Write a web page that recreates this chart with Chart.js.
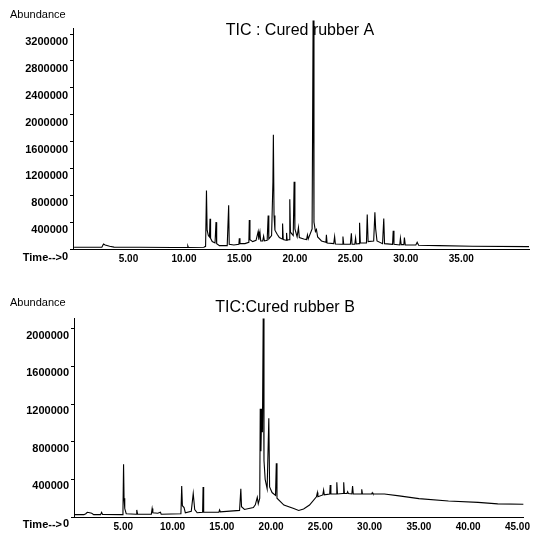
<!DOCTYPE html>
<html>
<head>
<meta charset="utf-8">
<script src="https://cdn.jsdelivr.net/npm/chart.js@4.4.1/dist/chart.umd.min.js"></script>
<style>
  html, body { margin: 0; padding: 0; background: #fff; }
  canvas { display: block; }
</style>
</head>
<body>
<canvas id="chartA" width="534" height="270"></canvas>
<canvas id="chartB" width="534" height="267"></canvas>
<script>
// retention time (min) and abundance
const timeA = [0.1, 2.6, 2.75, 2.9, 3.3, 3.7, 6.0, 9.0, 10.3, 10.35, 10.4, 11.8,
  11.95, 12.03, 12.09, 12.2, 12.3, 12.35, 12.4, 12.55, 12.8, 12.89, 12.95, 13.2,
  13.9, 14.03, 14.08, 14.5, 14.95, 14.99, 15.05, 15.5, 15.85, 15.89, 15.95, 16.2,
  16.5, 16.69, 16.75, 16.85, 16.92, 17.1, 17.18, 17.25, 17.5, 17.59, 17.65, 17.9,
  18.02, 18.06, 18.12, 18.2, 18.4, 18.6, 18.85, 18.89, 18.95, 19.2, 19.25, 19.3,
  19.5, 19.54, 19.6, 19.85, 19.93, 20.0, 20.2, 20.32, 20.4, 20.8, 21.05, 21.13,
  21.2, 21.55, 21.64, 21.72, 21.85, 21.94, 22.05, 22.4, 22.8, 22.84, 22.9, 23.5,
  23.58, 23.65, 24.25, 24.33, 24.4, 25.0, 25.09, 25.15, 25.4, 25.47, 25.53, 25.78,
  25.83, 25.9, 26.45, 26.52, 26.6, 27.1, 27.21, 27.28, 27.4, 27.9, 28.01, 28.08,
  28.8, 28.86, 28.93, 29.45, 29.51, 29.58, 29.82, 29.87, 29.95, 30.9, 31.02, 31.15,
  33.0, 36.0, 41.1];
const abundA = [25000, 25000, 75000, 60000, 40000, 28000, 25000, 22000, 22000, 45000, 22000, 25000,
  40000, 870000, 280000, 200000, 180000, 450000, 160000, 110000, 90000, 400000, 80000, 50000,
  50000, 650000, 70000, 60000, 70000, 160000, 80000, 80000, 100000, 430000, 140000, 110000,
  130000, 260000, 140000, 250000, 120000, 120000, 190000, 120000, 130000, 500000, 150000, 200000,
  1000000, 1700000, 500000, 280000, 220000, 170000, 150000, 380000, 140000, 130000, 240000, 130000,
  140000, 740000, 250000, 200000, 1000000, 300000, 180000, 320000, 170000, 150000, 140000, 210000,
  150000, 300000, 3400000, 400000, 260000, 290000, 180000, 120000, 100000, 210000, 90000, 80000,
  185000, 75000, 70000, 185000, 70000, 70000, 235000, 70000, 70000, 165000, 75000, 80000,
  390000, 90000, 90000, 515000, 110000, 120000, 545000, 300000, 120000, 80000, 455000, 80000,
  70000, 270000, 70000, 60000, 160000, 65000, 65000, 170000, 60000, 60000, 100000, 55000,
  50000, 40000, 35000];

const timeB = [0.05, 1.0, 1.2, 1.35, 1.6, 1.8, 2.0, 2.7, 2.8, 2.9, 4.9, 4.97, 5.03, 5.08,
  5.15, 5.3, 6.3, 6.37, 6.45, 7.85, 7.93, 8.0, 8.5, 8.77, 8.85, 10.85, 10.93, 11.0,
  11.17, 11.3, 11.9, 12.1, 12.25, 12.5, 13.05, 13.1, 13.16, 14.7, 14.77, 14.85, 16.8,
  16.93, 17.0, 17.3, 18.2, 18.4, 18.6, 18.7, 18.85, 18.9, 18.97, 19.05, 19.12, 19.2,
  19.28, 19.4, 19.6, 19.77, 19.85, 20.1, 20.45, 20.53, 20.6, 21.3, 22.3, 22.8, 23.3,
  23.9, 24.6, 24.7, 24.75, 25.25, 25.33, 25.4, 25.95, 26.0, 26.07, 26.6, 26.67, 26.74,
  27.3, 27.37, 27.44, 27.7, 27.77, 27.84, 28.2, 28.27, 28.34, 29.13, 29.2, 29.27, 30.2,
  30.27, 30.34, 31.5, 33.0, 35.0, 38.0, 41.0, 43.0, 45.6];
const abundB = [25000, 25000, 35000, 50000, 45000, 40000, 25000, 25000, 50000, 28000, 25000, 80000, 560000, 200000,
  90000, 35000, 30000, 75000, 30000, 30000, 90000, 45000, 40000, 50000, 30000, 35000, 330000, 120000,
  100000, 45000, 60000, 250000, 80000, 45000, 50000, 320000, 50000, 50000, 75000, 55000, 70000,
  300000, 110000, 80000, 100000, 130000, 210000, 140000, 200000, 1150000, 700000, 1150000, 900000, 2110000,
  600000, 400000, 300000, 1050000, 320000, 260000, 230000, 570000, 200000, 127000, 90000, 70000, 85000,
  127000, 215000, 260000, 215000, 235000, 286000, 235000, 245000, 340000, 245000, 245000, 368000, 245000,
  250000, 368000, 250000, 250000, 268000, 250000, 245000, 329000, 245000, 245000, 294000, 245000, 245000,
  258000, 245000, 245000, 225000, 195000, 170000, 155000, 140000, 135000];

const yTicksA = [0, 400000, 800000, 1200000, 1600000, 2000000, 2400000, 2800000, 3200000];
const xTicksA = [5, 10, 15, 20, 25, 30, 35];
const yTicksB = [0, 400000, 800000, 1200000, 1600000, 2000000];
const xTicksB = [5, 10, 15, 20, 25, 30, 35, 40, 45];

const FONT = "'Liberation Sans', Arial, Helvetica, sans-serif";

// extra texts in the ChemStation style: "Abundance", "Time-->" and the title
const textPlugin = {
  id: "chemTexts",
  beforeDatasetsDraw(chart, args, opts) {
    const ctx = chart.ctx;
    ctx.save();
    ctx.fillStyle = "#000";
    ctx.textBaseline = "middle";
    ctx.textAlign = "left";
    ctx.font = "11px " + FONT;
    ctx.fillText("Abundance", 10, opts.abundanceY);
    ctx.font = "bold 11px " + FONT;
    ctx.textAlign = "right";
    ctx.fillText("Time-->", 62, opts.timeY);
    ctx.font = "16px " + FONT;
    ctx.textAlign = "center";
    ctx.fillText(opts.title, opts.titleX, opts.titleY);
    ctx.restore();
  }
};

function makeChart(id, times, values, cfg) {
  return new Chart(document.getElementById(id), {
    type: "line",
    data: {
      datasets: [{
        data: times.map((t, i) => ({ x: t, y: values[i] })),
        borderColor: "#000",
        borderWidth: 1.1,
        pointRadius: 0,
        tension: 0,
        fill: false,
        clip: false,
      }],
    },
    options: {
      responsive: false,
      animation: false,
      layout: { padding: { top: cfg.top, right: cfg.right, left: 0, bottom: 0 } },
      plugins: {
        legend: { display: false },
        tooltip: { enabled: false },
        chemTexts: cfg.texts,
      },
      scales: {
        x: {
          type: "linear",
          min: 0,
          max: cfg.xMax,
          afterBuildTicks: (scale) => { scale.ticks = cfg.xTicks.map((v) => ({ value: v })); },
          afterFit: (scale) => { scale.height = cfg.xHeight; },
          grid: { display: false, drawTicks: false },
          border: { display: true, color: "#000", width: 1 },
          ticks: {
            color: "#000",
            padding: 4,
            maxRotation: 0,
            autoSkip: false,
            font: { family: FONT, size: 10, weight: "bold" },
            callback: (v) => v.toFixed(2),
          },
        },
        y: {
          min: 0,
          max: cfg.yMax,
          afterBuildTicks: (scale) => { scale.ticks = cfg.yTicks.map((v) => ({ value: v })); },
          afterFit: (scale) => { scale.width = cfg.yWidth; },
          grid: { drawOnChartArea: false, drawTicks: true, tickLength: 3, color: "#000" },
          border: { display: true, color: "#000", width: 1 },
          ticks: {
            color: "#000",
            padding: 2,
            labelOffset: cfg.labelOffset,
            autoSkip: false,
            font: { family: FONT, size: 11, weight: "bold" },
            callback: (v) => String(v),
          },
        },
      },
    },
    plugins: [textPlugin],
  });
}

makeChart("chartA", timeA, abundA, {
  top: 28, right: 5, xMax: 41.1, yMax: 3290000,
  xHeight: 21, yWidth: 73, labelOffset: 8,
  xTicks: xTicksA, yTicks: yTicksA,
  texts: { title: "TIC : Cured rubber A", titleX: 300, titleY: 31, abundanceY: 15, timeY: 258 },
});

makeChart("chartB", timeB, abundB, {
  top: 48, right: 4, xMax: 45.6, yMax: 2115000,
  xHeight: 20, yWidth: 74, labelOffset: 7,
  xTicks: xTicksB, yTicks: yTicksB,
  texts: { title: "TIC:Cured rubber B", titleX: 285, titleY: 38, abundanceY: 33, timeY: 255 },
});
</script>
</body>
</html>
